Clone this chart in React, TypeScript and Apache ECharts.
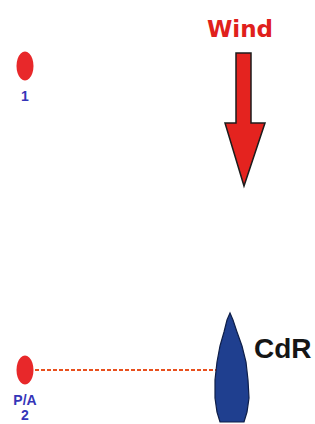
import React, { useEffect, useRef } from "react";
import * as echarts from "echarts";

// Diagram coordinate space (pixels of the 315x424 scene)
const SCENE_W = 315;
const SCENE_H = 424;

// Marks: [x, y, label]
const markPoints: [number, number, string][] = [
  [25, 66, "1"],
  [25, 370, "P/A\n2"],
];

// Starting line from mark P/A to the committee boat
const startLine: [number, number][] = [
  [35, 370],
  [218, 370],
];

// Wind arrow outline
const windArrow: [number, number][] = [
  [236, 53],
  [251, 53],
  [251, 123],
  [265, 123],
  [244, 186],
  [225, 123],
  [236, 123],
];

// Committee boat (CdR) outline
const boatOutline: [number, number][] = [
  [230, 313],
  [233, 320],
  [237, 332],
  [242, 346],
  [246, 362],
  [248, 380],
  [249, 398],
  [247, 412],
  [244, 422],
  [220, 422],
  [217, 412],
  [215, 398],
  [215, 380],
  [217, 362],
  [220, 346],
  [224, 332],
  [227, 320],
];

// Text labels: [x, y, text]
const windLabel: [number, number, string] = [240, 29, "Wind"];
const boatLabel: [number, number, string] = [254, 348, "CdR"];

export default function App() {
  const ref = useRef<HTMLDivElement>(null);
  useEffect(() => {
    document.body.style.margin = "0";
    if (!ref.current) return;
    const chart = echarts.init(ref.current, null, { renderer: "svg" });

    const polyItem = (pts: [number, number][], fill: string, stroke: string, lw: number) =>
      (params: any, api: any) => ({
        type: "polygon",
        shape: { points: pts.map((p) => api.coord(p)) },
        style: { fill, stroke, lineWidth: lw },
      });

    chart.setOption({
      animation: false,
      backgroundColor: "#ffffff",
      grid: { left: 0, right: 0, top: 0, bottom: 0 },
      xAxis: { type: "value", min: 0, max: SCENE_W, show: false },
      yAxis: { type: "value", min: 0, max: SCENE_H, inverse: true, show: false },
      series: [
        {
          type: "line",
          data: startLine,
          symbol: "none",
          lineStyle: { color: "#e8501e", width: 2, type: [4, 2] },
          z: 1,
        },
        {
          type: "custom",
          data: [[0, 0]],
          renderItem: polyItem(windArrow, "#e4231f", "#1c1c1c", 1.5),
          z: 2,
        },
        {
          type: "custom",
          data: [[0, 0]],
          renderItem: polyItem(boatOutline, "#1f3f8f", "#0e1e48", 1.2),
          z: 2,
        },
        {
          type: "scatter",
          data: markPoints.map((m) => ({ value: [m[0], m[1]], name: m[2] })),
          symbol: "circle",
          symbolSize: [17, 29],
          itemStyle: { color: "#e8282a", opacity: 1 },
          label: {
            show: true,
            position: "bottom",
            distance: 8,
            formatter: (p: any) => p.name,
            color: "#3535b8",
            fontFamily: "Liberation Sans",
            fontWeight: "bold",
            fontSize: 14,
            lineHeight: 15,
            align: "center",
          },
          z: 3,
        },
        {
          type: "scatter",
          data: [
            { value: [windLabel[0], windLabel[1]], name: windLabel[2] },
          ],
          symbolSize: 0,
          itemStyle: { opacity: 1 },
          label: {
            show: true,
            position: "inside",
            formatter: (p: any) => p.name,
            color: "#e0201c",
            fontFamily: "DejaVu Sans",
            fontWeight: "bold",
            fontSize: 23,
          },
          z: 4,
        },
        {
          type: "scatter",
          data: [
            { value: [boatLabel[0], boatLabel[1]], name: boatLabel[2] },
          ],
          symbolSize: 0,
          itemStyle: { opacity: 1 },
          label: {
            show: true,
            position: "right",
            distance: 0,
            formatter: (p: any) => p.name,
            color: "#151515",
            fontFamily: "Liberation Sans",
            fontWeight: "bold",
            fontSize: 28,
          },
          z: 4,
        },
      ],
    });
    return () => chart.dispose();
  }, []);
  return <div ref={ref} style={{ width: SCENE_W, height: SCENE_H }} />;
}
